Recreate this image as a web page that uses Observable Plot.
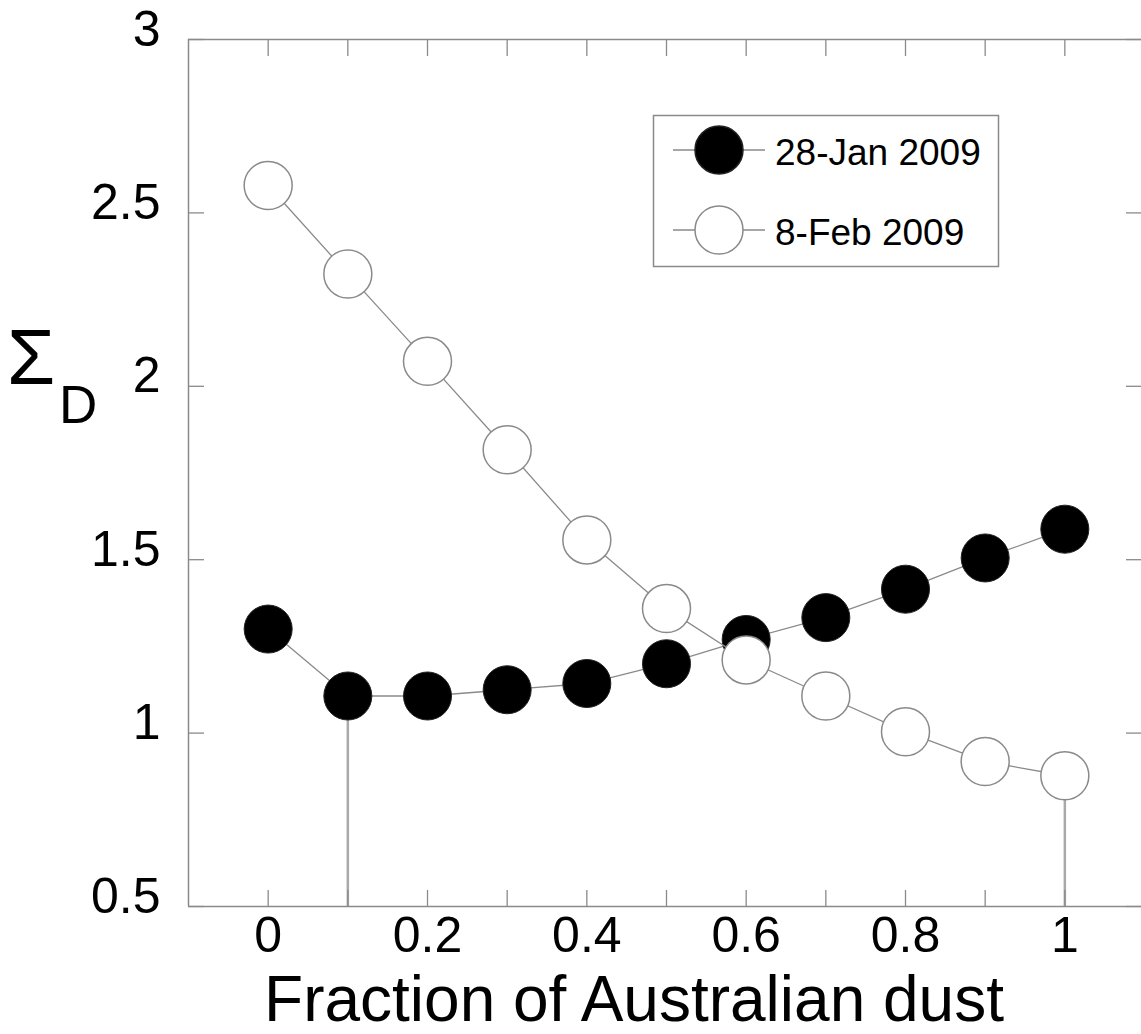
<!DOCTYPE html>
<html>
<head>
<meta charset="utf-8">
<script src="https://cdn.jsdelivr.net/npm/d3@7"></script>
<script src="https://cdn.jsdelivr.net/npm/@observablehq/plot@0.6"></script>
<style>
  body { margin: 0; background: #fff; }
  #wrap { position: relative; width: 1141px; height: 1034px; overflow: hidden; font-family: "Liberation Sans", Arial, sans-serif; }
  #overlay { position: absolute; left: 0; top: 0; pointer-events: none; }
</style>
</head>
<body>
<div id="wrap"></div>
<script>
// ---- data ----
const fractions = [0, 0.1, 0.2, 0.3, 0.4, 0.5, 0.6, 0.7, 0.8, 0.9, 1];
const jan28 = [1.300, 1.107, 1.107, 1.125, 1.143, 1.200, 1.270, 1.333, 1.415, 1.505, 1.588];
const feb08 = [2.579, 2.324, 2.072, 1.817, 1.557, 1.359, 1.211, 1.107, 1.004, 0.918, 0.877];
const seriesNames = ["28-Jan 2009", "8-Feb 2009"];
const xDomain = [-0.1, 1.1];
const yDomain = [0.5, 3];
const xMinorTicks = [0, 0.1, 0.2, 0.3, 0.4, 0.5, 0.6, 0.7, 0.8, 0.9, 1];
const xLabelTicks = [0, 0.2, 0.4, 0.6, 0.8, 1];
const yTicks = [0.5, 1, 1.5, 2, 2.5, 3];
const xTitle = "Fraction of Australian dust";
const yTitleMain = "\u03A3";
const yTitleSub = "D";

const FONT = '"Liberation Sans", Arial, sans-serif';
const AXIS_GRAY = "#8a8a8a";
const fmt = d => String(d);

const janData = fractions.map((x, i) => ({x, y: jan28[i]}));
const febData = fractions.map((x, i) => ({x, y: feb08[i]}));
const drops = [
  {x: fractions[d3.minIndex(jan28)], y: d3.min(jan28)},
  {x: fractions[d3.minIndex(feb08)], y: d3.min(feb08)}
];

const chart = Plot.plot({
  width: 1141,
  height: 1034,
  marginLeft: 188,
  marginTop: 39,
  marginBottom: 128,
  marginRight: 0,
  style: {fontFamily: FONT, background: "white", color: "black"},
  x: {domain: xDomain, range: [188, 1144], label: null},
  y: {domain: yDomain, label: null},
  marks: [
    // drop lines at each series minimum
    Plot.ruleX(drops, {x: "x", y1: () => yDomain[0], y2: "y", stroke: "#a9a9a9", strokeWidth: 2.5}),
    // 28-Jan series
    Plot.line(janData, {x: "x", y: "y", stroke: AXIS_GRAY, strokeWidth: 1.3}),
    Plot.dot(janData, {x: "x", y: "y", r: 24, fill: "black", stroke: "#222", strokeWidth: 1}),
    // 8-Feb series
    Plot.line(febData, {x: "x", y: "y", stroke: AXIS_GRAY, strokeWidth: 1.3}),
    Plot.dot(febData, {x: "x", y: "y", r: 24, fill: "white", stroke: AXIS_GRAY, strokeWidth: 1.5}),
    // frame lines
    Plot.ruleY(yDomain, {stroke: AXIS_GRAY, strokeWidth: 1.5}),
    Plot.ruleX(xDomain, {stroke: AXIS_GRAY, strokeWidth: 1.5}),
    // inward ticks
    Plot.axisX(xMinorTicks, {anchor: "bottom", tickSize: -16, tickFormat: () => "", stroke: AXIS_GRAY, strokeWidth: 1.3, label: null}),
    Plot.axisX(xMinorTicks, {anchor: "top", tickSize: -16, tickFormat: () => "", stroke: AXIS_GRAY, strokeWidth: 1.3, label: null}),
    Plot.axisY(yTicks, {anchor: "left", tickSize: -16, tickFormat: () => "", stroke: AXIS_GRAY, strokeWidth: 1.3, label: null}),
    Plot.axisY(yTicks, {anchor: "right", tickSize: -16, tickFormat: () => "", stroke: AXIS_GRAY, strokeWidth: 1.3, label: null}),
    // tick labels
    Plot.axisX(xLabelTicks, {anchor: "bottom", tickSize: 0, tickPadding: 10, fontSize: 50, tickFormat: fmt, fill: "black", label: null}),
    Plot.axisY(yTicks, {anchor: "left", tickSize: 0, tickPadding: 28, fontSize: 50, dy: -10, tickFormat: fmt, fill: "black", label: null}),
    // x title
    Plot.text([xTitle], {frameAnchor: "bottom", dy: 114, dx: -31, fontSize: 64, fill: "black"})
  ]
});

const wrap = document.getElementById("wrap");
wrap.appendChild(chart);

// overlay: y title with subscript and legend
const ov = d3.select(wrap).append("svg")
  .attr("id", "overlay")
  .attr("width", 1141).attr("height", 1034)
  .style("font-family", FONT);

ov.append("text").attr("x", 7).attr("y", 384).attr("font-size", 78).attr("fill", "black").text(yTitleMain);
ov.append("text").attr("x", 59).attr("y", 423).attr("font-size", 53).attr("fill", "black").text(yTitleSub);

const lg = ov.append("g");
lg.append("rect").attr("x", 653.5).attr("y", 115.5).attr("width", 345).attr("height", 151)
  .attr("fill", "white").attr("stroke", AXIS_GRAY).attr("stroke-width", 1.5);
const styles = [
  {fill: "black", stroke: "#222"},
  {fill: "white", stroke: AXIS_GRAY}
];
seriesNames.forEach((name, i) => {
  const cy = 150 + i * 80;
  lg.append("line").attr("x1", 673).attr("x2", 765).attr("y1", cy).attr("y2", cy)
    .attr("stroke", AXIS_GRAY).attr("stroke-width", 1.3);
  lg.append("circle").attr("cx", 719).attr("cy", cy).attr("r", 24)
    .attr("fill", styles[i].fill).attr("stroke", styles[i].stroke).attr("stroke-width", 1.5);
  lg.append("text").attr("x", 775).attr("y", cy + 15).attr("font-size", 37).attr("fill", "black").text(name);
});
</script>
</body>
</html>
